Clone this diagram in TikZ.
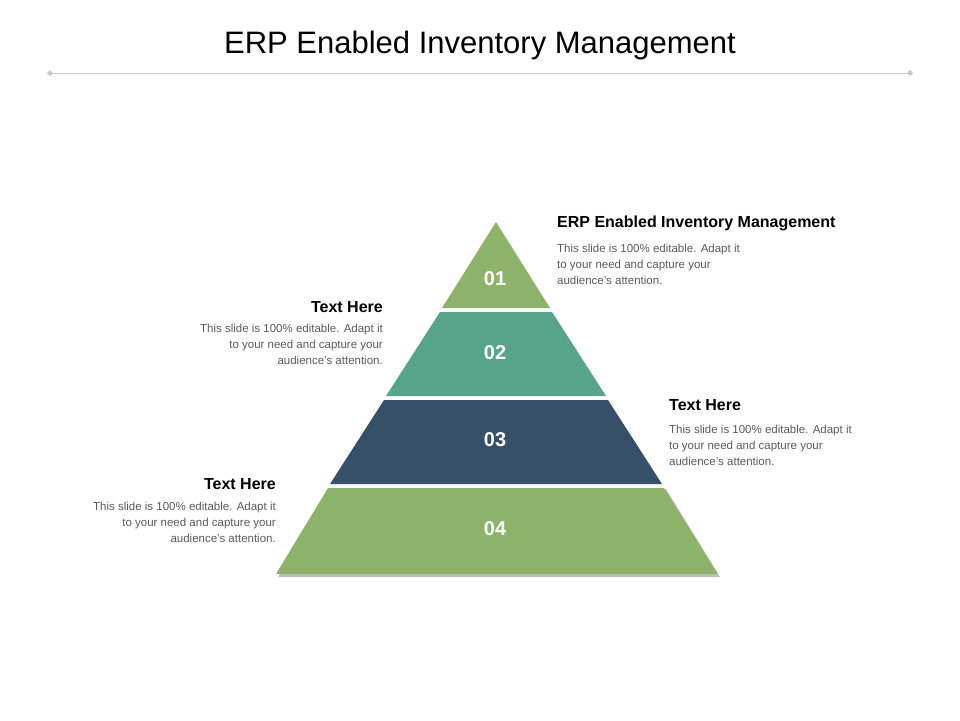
\documentclass[tikz,border=0pt]{standalone}
\usepackage{fontspec}
\setmainfont{Liberation Sans}
\usetikzlibrary{positioning}
\definecolor{lgreen}{HTML}{8DB36A}
\definecolor{teal}{HTML}{57A48A}
\definecolor{slate}{HTML}{36506A}
\definecolor{bodygray}{HTML}{595959}
\tikzset{
  layer/.style = {draw=none},
  num/.style = {text=white, font=\fontsize{20}{24}\selectfont\bfseries},
  head/.style = {font=\fontsize{16}{19}\selectfont\bfseries, inner sep=0pt},
  body/.style = {font=\fontsize{11.5}{16}\selectfont, text=bodygray, inner sep=0pt}
}
\begin{document}
\begin{tikzpicture}[x=1pt, y=-1pt]
	\useasboundingbox (0,0) rectangle (960,720);
	% title
	\node (title) at (480,45) {\fontsize{31}{36}\selectfont ERP Enabled Inventory Management};
	\coordinate (lineL) at (50,73);
	\coordinate (lineR) at (910,73);
	\draw [gray!35, line width=0.8pt] (lineL) -- (lineR);
	\foreach \p in {lineL,lineR}{
			\fill [gray!45] (\p) ++(-3,0) -- ++(3,-3) -- ++(3,3) -- ++(-3,3) -- cycle;
		}
	% pyramid layers
	\fill [black!25] (278,577) -- (720,577) -- (666,489) -- (332,489) -- cycle;
	\fill [layer, lgreen] (496,222) -- (550,308) -- (442,308) -- cycle;
	\fill [layer, teal] (440,312) -- (552,312) -- (606,396) -- (386,396) -- cycle;
	\fill [layer, slate] (384,400) -- (608,400) -- (662,484) -- (330,484) -- cycle;
	\fill [layer, lgreen] (328,488) -- (664,488) -- (718,574) -- (276,574) -- cycle;
	\node [num] (n1) at (495,279) {01};
	\node [num] (n2) at (495,353) {02};
	\node [num] (n3) at (495,440) {03};
	\node [num] (n4) at (495,529) {04};
	% text blocks
	\node [head, anchor=west] (h1) at (557,223) {ERP Enabled Inventory Management};
	\node [body, anchor=north west, align=left] (b1) at (557,244) {This slide is 100\% editable. Adapt it\\to your need and capture your\\audience’s attention.};
	\node [head, anchor=east] (h2) at (383,307) {Text Here};
	\node [body, anchor=north east, align=right] (b2) at (383,324) {This slide is 100\% editable. Adapt it\\to your need and capture your\\audience’s attention.};
	\node [head, anchor=west] (h3) at (669,405) {Text Here};
	\node [body, anchor=north west, align=left] (b3) at (669,425) {This slide is 100\% editable. Adapt it\\to your need and capture your\\audience’s attention.};
	\node [head, anchor=east] (h4) at (276,484) {Text Here};
	\node [body, anchor=north east, align=right] (b4) at (276,502) {This slide is 100\% editable. Adapt it\\to your need and capture your\\audience’s attention.};
\end{tikzpicture}
\end{document}
